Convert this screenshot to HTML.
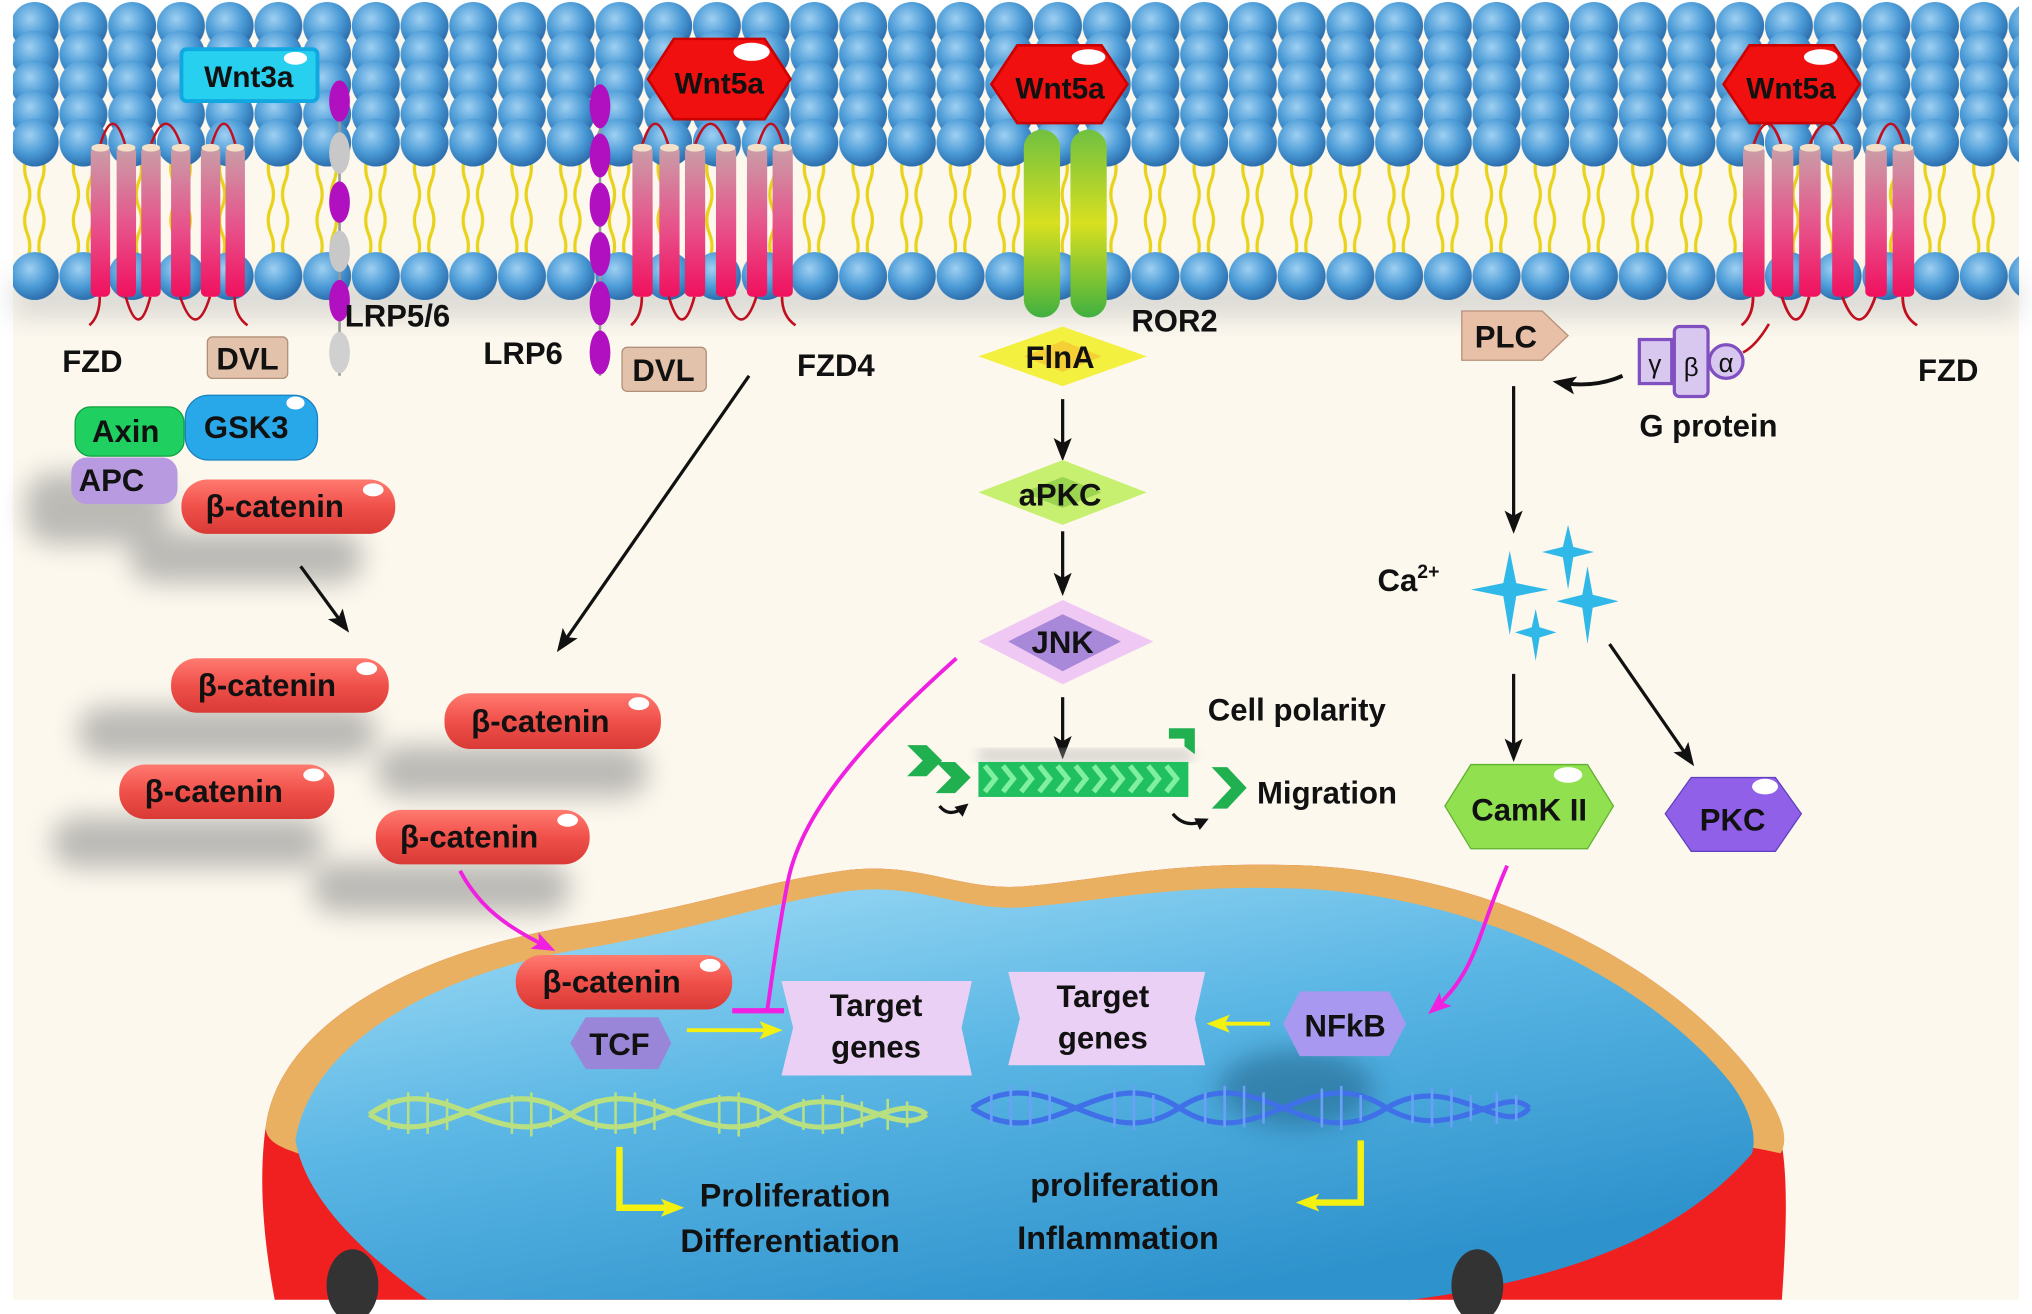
<!DOCTYPE html>
<html><head><meta charset="utf-8"><style>
html,body{margin:0;padding:0;background:#fff;}
svg{display:block;}
text{font-family:"Liberation Sans",Arial,sans-serif;font-weight:bold;fill:#111;}
</style></head><body>
<svg width="2032" height="1314" viewBox="0 0 1568 1014" preserveAspectRatio="none" xmlns="http://www.w3.org/2000/svg">
<defs>
<radialGradient id="head" cx="0.4" cy="0.35" r="0.65"><stop offset="0" stop-color="#9fd0f2"/><stop offset="0.6" stop-color="#4a9ad6"/><stop offset="1" stop-color="#2d6fae"/></radialGradient>
<pattern id="heads" width="37.6" height="40" patternUnits="userSpaceOnUse" x="8" y="0"><circle cx="18.8" cy="20" r="18.5" fill="url(#head)"/></pattern>
<pattern id="tails" width="37.6" height="80" patternUnits="userSpaceOnUse" x="8" y="120"><path d="M13,0 q-4,10 0,20 q4,10 0,20 q-4,10 0,20 q4,10 0,20 M24,0 q4,10 0,20 q-4,10 0,20 q4,10 0,20 q-4,10 0,20" stroke="#e8d21a" stroke-width="2.5" fill="none"/></pattern>
<linearGradient id="cyl" x1="0" y1="0" x2="0" y2="1"><stop offset="0" stop-color="#c9a0a8"/><stop offset="0.55" stop-color="#e8508a"/><stop offset="1" stop-color="#f0105e"/></linearGradient>
<linearGradient id="red" x1="0" y1="0" x2="0" y2="1"><stop offset="0" stop-color="#ff7a70"/><stop offset="0.5" stop-color="#f0504a"/><stop offset="1" stop-color="#d93a35"/></linearGradient>
<linearGradient id="ror" x1="0" y1="0" x2="0" y2="1"><stop offset="0" stop-color="#70c040"/><stop offset="0.5" stop-color="#d8e020"/><stop offset="1" stop-color="#40b040"/></linearGradient>
<linearGradient id="nuc" x1="0" y1="0" x2="0.6" y2="1"><stop offset="0" stop-color="#a8e0f8"/><stop offset="0.5" stop-color="#5ab6e4"/><stop offset="1" stop-color="#2e92cc"/></linearGradient>
<filter id="blur" x="-50%" y="-50%" width="200%" height="200%"><feGaussianBlur stdDeviation="10"/></filter>
<filter id="blur2"><feGaussianBlur stdDeviation="5"/></filter>
<marker id="ar" markerWidth="10" markerHeight="10" refX="7" refY="5" orient="auto" markerUnits="userSpaceOnUse" viewBox="0 0 10 10"><path d="M0,0 L10,5 L0,10 z" fill="#111"/></marker>
<marker id="arb" markerWidth="18" markerHeight="18" refX="14" refY="9" orient="auto" markerUnits="userSpaceOnUse" viewBox="0 0 18 18"><path d="M0,2 L18,9 L0,16 L4,9 z" fill="#111"/></marker>
<marker id="arm" markerWidth="18" markerHeight="18" refX="14" refY="9" orient="auto" markerUnits="userSpaceOnUse" viewBox="0 0 18 18"><path d="M0,2 L18,9 L0,16 L4,9 z" fill="#f020e0"/></marker>
<marker id="ary" markerWidth="18" markerHeight="18" refX="12" refY="9" orient="auto" markerUnits="userSpaceOnUse" viewBox="0 0 18 18"><path d="M0,2 L18,9 L0,16 L4,9 z" fill="#f4f010"/></marker>
<g id="fzd">
 <path d="M7,113 q10,-35 20,0 M46,113 q12,-35 24,0 M93,113 q10,-35 19,0" stroke="#c01020" stroke-width="2" fill="none"/>
 <rect x="0" y="113" width="15" height="116" rx="4" fill="url(#cyl)"/>
 <rect x="20" y="113" width="15" height="116" rx="4" fill="url(#cyl)"/>
 <rect x="39" y="113" width="15" height="116" rx="4" fill="url(#cyl)"/>
 <rect x="62" y="113" width="15" height="116" rx="4" fill="url(#cyl)"/>
 <rect x="85" y="113" width="15" height="116" rx="4" fill="url(#cyl)"/>
 <rect x="104" y="113" width="15" height="116" rx="4" fill="url(#cyl)"/>
 <g fill="#f4e0c8"><ellipse cx="7.5" cy="114" rx="7" ry="3"/><ellipse cx="27.5" cy="114" rx="7" ry="3"/><ellipse cx="46.5" cy="114" rx="7" ry="3"/><ellipse cx="69.5" cy="114" rx="7" ry="3"/><ellipse cx="92.5" cy="114" rx="7" ry="3"/><ellipse cx="111.5" cy="114" rx="7" ry="3"/></g>
 <path d="M7,229 q0,15 -8,22 M27,229 q10,35 19,0 M69,229 q12,35 23,0 M111,229 q0,15 10,22" stroke="#c01020" stroke-width="2" fill="none"/>
</g>
</defs>
<rect width="1568" height="1014" fill="#fff"/>
<rect x="10" y="10" width="1548" height="993" fill="#fcf8ee"/>
<!-- membrane shadow -->
<rect x="10" y="215" width="1548" height="30" fill="#bbb" opacity="0.5" filter="url(#blur)"/>
<!-- tails -->
<rect x="10" y="122" width="1548" height="76" fill="url(#tails)"/>
<!-- heads -->
<rect x="10" y="0" width="1548" height="40" fill="url(#heads)"/>
<g transform="translate(0,22)"><rect x="10" y="0" width="1548" height="40" fill="url(#heads)"/></g>
<g transform="translate(0,45)"><rect x="10" y="0" width="1548" height="40" fill="url(#heads)"/></g>
<g transform="translate(0,68)"><rect x="10" y="0" width="1548" height="40" fill="url(#heads)"/></g>
<g transform="translate(0,90)"><rect x="10" y="0" width="1548" height="40" fill="url(#heads)"/></g>
<g transform="translate(0,193)"><rect x="10" y="0" width="1548" height="40" fill="url(#heads)"/></g>

<!-- receptors -->
<use href="#fzd" x="70" y="0"/>
<use href="#fzd" transform="translate(488,0) scale(1.04,1)"/>
<use href="#fzd" transform="translate(1345,0) scale(1.11,1)"/>

<!-- LRP5/6 -->
<g>
 <line x1="262" y1="62" x2="262" y2="290" stroke="#999" stroke-width="2"/>
 <ellipse cx="262" cy="78" rx="8" ry="16" fill="#b010c0"/>
 <ellipse cx="262" cy="118" rx="8" ry="16" fill="#c8c8c8"/>
 <ellipse cx="262" cy="156" rx="8" ry="16" fill="#b010c0"/>
 <ellipse cx="262" cy="194" rx="8" ry="16" fill="#c8c8c8"/>
 <ellipse cx="262" cy="232" rx="8" ry="16" fill="#b010c0"/>
 <ellipse cx="262" cy="272" rx="8" ry="16" fill="#d0d0d0"/>
</g>
<g>
 <line x1="463" y1="65" x2="463" y2="290" stroke="#999" stroke-width="2"/>
 <ellipse cx="463" cy="82" rx="8" ry="17" fill="#b010c0"/>
 <ellipse cx="463" cy="120" rx="8" ry="17" fill="#b010c0"/>
 <ellipse cx="463" cy="158" rx="8" ry="17" fill="#b010c0"/>
 <ellipse cx="463" cy="196" rx="8" ry="17" fill="#b010c0"/>
 <ellipse cx="463" cy="234" rx="8" ry="17" fill="#b010c0"/>
 <ellipse cx="463" cy="272" rx="8" ry="17" fill="#b010c0"/>
</g>
<!-- ROR2 -->
<rect x="790" y="100" width="28" height="145" rx="14" fill="url(#ror)"/>
<rect x="826" y="100" width="28" height="145" rx="14" fill="url(#ror)"/>

<!-- Wnt ligands -->
<rect x="140" y="38" width="105" height="40" rx="4" fill="#28d0f0" stroke="#10a8e0" stroke-width="3"/>
<ellipse cx="228" cy="45" rx="9" ry="5" fill="#fff"/>
<text x="192" y="67" font-size="23" text-anchor="middle">Wnt3a</text>
<g>
<polygon points="500,61 520,30 590,30 610,61 590,92 520,92" fill="#f01010" stroke="#c00" stroke-width="2"/>
<ellipse cx="580" cy="40" rx="14" ry="7" fill="#fff"/>
<text x="555" y="72" font-size="23" text-anchor="middle">Wnt5a</text>
</g>
<g>
<polygon points="765,65 785,35 850,35 870,65 850,95 785,95" fill="#f01010" stroke="#c00" stroke-width="2"/>
<ellipse cx="840" cy="44" rx="13" ry="6" fill="#fff"/>
<text x="818" y="76" font-size="23" text-anchor="middle">Wnt5a</text>
</g>
<g>
<polygon points="1330,65 1350,35 1415,35 1435,65 1415,95 1350,95" fill="#f01010" stroke="#c00" stroke-width="2"/>
<ellipse cx="1405" cy="44" rx="13" ry="6" fill="#fff"/>
<text x="1382" y="76" font-size="23" text-anchor="middle">Wnt5a</text>
</g>

<!-- labels near membrane -->
<text x="48" y="287" font-size="24">FZD</text>
<rect x="160" y="260" width="62" height="32" rx="4" fill="#e2c2aa" stroke="#b09078"/>
<text x="191" y="285" font-size="24" text-anchor="middle">DVL</text>
<text x="266" y="252" font-size="24">LRP5/6</text>
<text x="373" y="281" font-size="24">LRP6</text>
<rect x="480" y="268" width="65" height="34" rx="4" fill="#e2c2aa" stroke="#b09078"/>
<text x="512" y="294" font-size="24" text-anchor="middle">DVL</text>
<text x="615" y="290" font-size="24">FZD4</text>
<text x="873" y="256" font-size="24">ROR2</text>
<text x="1480" y="294" font-size="24">FZD</text>

<!-- destruction complex -->
<g opacity="0.55" filter="url(#blur)" fill="#888">
 <rect x="20" y="365" width="110" height="55" rx="20"/>
 <rect x="100" y="410" width="180" height="40" rx="20"/>
 <rect x="60" y="545" width="230" height="40" rx="20"/>
 <rect x="40" y="630" width="210" height="40" rx="20"/>
 <rect x="290" y="575" width="210" height="40" rx="20"/>
 <rect x="240" y="665" width="200" height="40" rx="20"/>
</g>
<rect x="58" y="314" width="84" height="38" rx="12" fill="#1fcf60" stroke="#10a040"/>
<text x="97" y="341" font-size="24" text-anchor="middle">Axin</text>
<rect x="55" y="353" width="82" height="36" rx="12" fill="#b89ae0"/>
<text x="86" y="379" font-size="24" text-anchor="middle">APC</text>
<rect x="143" y="305" width="102" height="50" rx="18" fill="#28a8e8" stroke="#1880c0"/>
<ellipse cx="228" cy="311" rx="7" ry="5" fill="#fff"/>
<text x="190" y="338" font-size="24" text-anchor="middle">GSK3</text>

<!-- beta-catenin pills -->
<g font-size="24">
<rect x="140" y="370" width="165" height="42" rx="20" fill="url(#red)"/><ellipse cx="288" cy="378" rx="8" ry="5" fill="#fff"/><text x="212" y="399" text-anchor="middle">β-catenin</text>
<rect x="132" y="508" width="168" height="42" rx="20" fill="url(#red)"/><ellipse cx="283" cy="516" rx="8" ry="5" fill="#fff"/><text x="206" y="537" text-anchor="middle">β-catenin</text>
<rect x="343" y="535" width="167" height="43" rx="20" fill="url(#red)"/><ellipse cx="493" cy="543" rx="8" ry="5" fill="#fff"/><text x="417" y="565" text-anchor="middle">β-catenin</text>
<rect x="92" y="590" width="166" height="42" rx="20" fill="url(#red)"/><ellipse cx="242" cy="598" rx="8" ry="5" fill="#fff"/><text x="165" y="619" text-anchor="middle">β-catenin</text>
<rect x="290" y="625" width="165" height="42" rx="20" fill="url(#red)"/><ellipse cx="438" cy="633" rx="8" ry="5" fill="#fff"/><text x="362" y="654" text-anchor="middle">β-catenin</text>
</g>

<!-- arrows left -->
<line x1="232" y1="437" x2="267" y2="485" stroke="#111" stroke-width="2.5" marker-end="url(#arb)"/>
<line x1="578" y1="290" x2="432" y2="500" stroke="#111" stroke-width="2.5" marker-end="url(#arb)"/>

<!-- central pathway -->
<polygon points="755,275 820,252 885,275 820,298" fill="#f4f040"/>
<polygon points="790,275 820,263 850,275 820,287" fill="#f4c030" opacity="0.7"/>
<text x="818" y="284" font-size="24" text-anchor="middle">FlnA</text>
<line x1="820" y1="308" x2="820" y2="352" stroke="#111" stroke-width="2.5" marker-end="url(#arb)"/>
<polygon points="755,380 820,355 885,380 820,405" fill="#c8f070"/>
<polygon points="790,380 820,368 850,380 820,392" fill="#88c840" opacity="0.7"/>
<text x="818" y="390" font-size="24" text-anchor="middle">aPKC</text>
<line x1="820" y1="410" x2="820" y2="456" stroke="#111" stroke-width="2.5" marker-end="url(#arb)"/>
<polygon points="755,495 820,463 890,495 820,528" fill="#f0c8f4"/>
<polygon points="778,495 820,474 865,495 820,518" fill="#a888d8"/>
<text x="820" y="504" font-size="24" text-anchor="middle">JNK</text>
<line x1="820" y1="538" x2="820" y2="582" stroke="#111" stroke-width="2.5" marker-end="url(#arb)"/>

<!-- chevrons -->
<rect x="755" y="578" width="165" height="10" fill="#aaa" opacity="0.5" filter="url(#blur2)"/>
<rect x="755" y="588" width="162" height="27" fill="#20c060"/>
<g fill="none" stroke="#80f0a0" stroke-width="4">
<path d="M760,591 l8,10 l-8,10 M774,591 l8,10 l-8,10 M788,591 l8,10 l-8,10 M802,591 l8,10 l-8,10 M816,591 l8,10 l-8,10 M830,591 l8,10 l-8,10 M844,591 l8,10 l-8,10 M858,591 l8,10 l-8,10 M872,591 l8,10 l-8,10 M886,591 l8,10 l-8,10 M900,591 l8,10 l-8,10"/>
</g>
<path d="M700,575 l15,0 l12,12 l-12,12 l-15,0 l12,-12z" fill="#20b050"/>
<path d="M722,588 l15,0 l12,12 l-12,12 l-15,0 l12,-12z" fill="#20b050"/>
<path d="M935,592 l12,0 l15,16 l-15,16 l-12,0 l15,-16z" fill="#20b050"/>
<path d="M902,562 l20,0 l0,20 l-8,-6 l0,-6 l-12,0z" fill="#20b050"/>
<path d="M725,622 q8,10 20,0" stroke="#111" stroke-width="2.5" fill="none" marker-end="url(#ar)"/>
<path d="M905,628 q10,12 25,5" stroke="#111" stroke-width="2.5" fill="none" marker-end="url(#ar)"/>
<text x="932" y="556" font-size="24">Cell polarity</text>
<text x="970" y="620" font-size="24">Migration</text>

<!-- right pathway -->
<polygon points="1128,240 1190,240 1210,259 1190,278 1128,278" fill="#e8c0a8" stroke="#b89078"/>
<text x="1162" y="268" font-size="24" text-anchor="middle">PLC</text>
<rect x="1265" y="262" width="25" height="34" fill="#d8c8f0" stroke="#8050c0" stroke-width="2.5"/>
<rect x="1292" y="252" width="26" height="54" rx="4" fill="#d8c8f0" stroke="#8050c0" stroke-width="2.5"/>
<circle cx="1332" cy="279" r="13" fill="#d8c8f0" stroke="#8050c0" stroke-width="2.5"/>
<text x="1277" y="288" font-size="20" text-anchor="middle" font-weight="normal" style="font-weight:normal">γ</text>
<text x="1305" y="290" font-size="20" text-anchor="middle" style="font-weight:normal">β</text>
<text x="1332" y="287" font-size="20" text-anchor="middle" style="font-weight:normal">α</text>
<path d="M1345,272 q10,-5 20,-22" stroke="#c01020" stroke-width="2" fill="none"/>
<text x="1265" y="337" font-size="24">G protein</text>
<path d="M1252,290 q-22,10 -50,5" stroke="#111" stroke-width="3" fill="none" marker-end="url(#arb)"/>
<line x1="1168" y1="298" x2="1168" y2="408" stroke="#111" stroke-width="2.5" marker-end="url(#arb)"/>
<text x="1063" y="456" font-size="24">Ca<tspan font-size="15" dy="-10">2+</tspan></text>
<g fill="#30b8e8">
<path d="M1165,425 l5,25 l25,5 l-25,5 l-5,30 l-5,-30 l-25,-5 l25,-5z"/>
<path d="M1210,405 l4,17 l16,4 l-16,4 l-4,25 l-4,-25 l-16,-4 l16,-4z"/>
<path d="M1225,437 l4,22 l20,5 l-20,5 l-4,28 l-4,-28 l-20,-5 l20,-5z"/>
<path d="M1185,470 l3,14 l13,4 l-13,4 l-3,18 l-3,-18 l-13,-4 l13,-4z"/>
</g>
<line x1="1168" y1="520" x2="1168" y2="584" stroke="#111" stroke-width="2.5" marker-end="url(#arb)"/>
<line x1="1242" y1="497" x2="1305" y2="588" stroke="#111" stroke-width="2.5" marker-end="url(#arb)"/>
<polygon points="1115,622 1135,590 1225,590 1245,622 1225,655 1135,655" fill="#90e050" stroke="#60b030"/>
<ellipse cx="1210" cy="598" rx="11" ry="6" fill="#fff"/>
<text x="1180" y="633" font-size="24" text-anchor="middle">CamK II</text>
<polygon points="1285,628 1305,600 1370,600 1390,628 1370,657 1305,657" fill="#9060e8" stroke="#6040c0"/>
<ellipse cx="1362" cy="607" rx="10" ry="6" fill="#fff"/>
<text x="1337" y="641" font-size="24" text-anchor="middle">PKC</text>

<!-- nucleus -->
<path d="M205,870 C215,790 320,735 440,715 C540,700 580,682 650,672 C710,664 740,688 790,684 C860,678 900,664 1010,668 C1160,676 1290,748 1352,828 C1378,862 1382,900 1375,1003 L212,1003 C202,950 200,905 205,870 Z" fill="#f02020"/>
<path d="M205,870 C215,790 320,735 440,715 C540,700 580,682 650,672 C710,664 740,688 790,684 C860,678 900,664 1010,668 C1160,676 1290,748 1352,828 C1378,862 1380,880 1374,890 C1330,880 1280,876 1260,880 L 230,890 C215,885 205,880 205,870 Z" fill="#e8b060"/>
<path d="M228,880 C240,805 335,752 445,733 C545,716 585,698 652,688 C710,680 742,704 792,700 C862,694 905,682 1010,686 C1150,694 1275,760 1335,835 C1350,855 1356,875 1352,890 C1300,950 1220,985 1090,1003 L330,1003 C270,960 235,920 228,880 Z" fill="url(#nuc)"/>
<ellipse cx="272" cy="992" rx="20" ry="28" fill="#333"/>
<ellipse cx="1140" cy="992" rx="20" ry="28" fill="#333"/>
<ellipse cx="1000" cy="840" rx="60" ry="30" fill="#1a5a80" opacity="0.5" filter="url(#blur)"/>

<!-- nucleus content -->
<rect x="398" y="737" width="167" height="42" rx="20" fill="url(#red)"/><ellipse cx="548" cy="745" rx="8" ry="5" fill="#fff"/><text x="472" y="766" font-size="24" text-anchor="middle">β-catenin</text>
<polygon points="440,805 452,785 508,785 518,805 508,825 452,825" fill="#9a86d8"/>
<text x="478" y="814" font-size="24" text-anchor="middle">TCF</text>
<path d="M603,757 L750,757 L742,793 L750,830 L603,830 L612,793 Z" fill="#ead0f4"/>
<text x="676" y="784" font-size="24" text-anchor="middle">Target</text>
<text x="676" y="816" font-size="24" text-anchor="middle">genes</text>
<path d="M778,750 L930,750 L922,786 L930,822 L778,822 L787,786 Z" fill="#ead0f4"/>
<text x="851" y="777" font-size="24" text-anchor="middle">Target</text>
<text x="851" y="809" font-size="24" text-anchor="middle">genes</text>
<polygon points="990,790 1003,765 1072,765 1085,790 1072,815 1003,815" fill="#a898f0"/>
<text x="1038" y="800" font-size="24" text-anchor="middle">NFkB</text>
<line x1="530" y1="795" x2="598" y2="795" stroke="#f4f010" stroke-width="3" marker-end="url(#ary)"/>
<line x1="980" y1="790" x2="937" y2="790" stroke="#f4f010" stroke-width="3" marker-end="url(#ary)"/>
<!-- magenta -->
<path d="M355,672 C370,700 390,715 425,732" stroke="#f020e0" stroke-width="3" fill="none" marker-end="url(#arm)"/>
<path d="M738,508 C680,560 620,620 608,680 C600,720 595,760 592,780" stroke="#f020e0" stroke-width="3" fill="none"/>
<line x1="565" y1="780" x2="605" y2="780" stroke="#f020e0" stroke-width="4"/>
<path d="M1163,668 C1140,720 1140,750 1105,780" stroke="#f020e0" stroke-width="3" fill="none" marker-end="url(#arm)"/>
<!-- DNA -->
<g fill="none" stroke="#b8e080" stroke-width="4">
<path d="M285,860 C340,820 380,895 440,860 C500,820 540,895 600,860 C650,830 690,880 715,860"/>
<path d="M285,860 C340,895 380,820 440,860 C500,895 540,820 600,860 C650,890 690,840 715,860"/>
</g>
<g stroke="#b8e080" stroke-width="2"><path d="M300,848 v24 M315,843 v32 M330,843 v32 M345,848 v24 M395,845 v30 M410,843 v34 M425,850 v20 M460,848 v24 M475,843 v32 M490,843 v32 M505,848 v24 M555,845 v30 M570,843 v34 M585,850 v20 M620,848 v24 M635,845 v30 M650,845 v30 M665,850 v20 M685,848 v24 M700,850 v20"/></g>
<g fill="none" stroke="#4070e8" stroke-width="4">
<path d="M750,855 C810,815 850,895 910,855 C970,815 1010,895 1070,855 C1120,825 1160,880 1180,855"/>
<path d="M750,855 C810,895 850,815 910,855 C970,895 1010,815 1070,855 C1120,885 1160,835 1180,855"/>
</g>
<g stroke="#6aa0f8" stroke-width="2"><path d="M765,843 v24 M780,838 v32 M795,838 v32 M810,843 v24 M860,840 v30 M875,838 v34 M890,845 v20 M930,843 v24 M945,838 v32 M960,838 v32 M975,843 v24 M1020,840 v30 M1035,838 v34 M1050,845 v20 M1090,843 v24 M1105,840 v30 M1120,840 v30 M1135,845 v20 M1155,843 v24 M1170,845 v20"/></g>
<!-- yellow L arrows -->
<path d="M478,885 L478,932 L522,932" stroke="#f4f010" stroke-width="5" fill="none" marker-end="url(#ary)"/>
<path d="M1050,880 L1050,928 L1006,928" stroke="#f4f010" stroke-width="5" fill="none" marker-end="url(#ary)"/>
<text x="540" y="931" font-size="25">Proliferation</text>
<text x="525" y="966" font-size="25">Differentiation</text>
<text x="795" y="923" font-size="25">proliferation</text>
<text x="785" y="964" font-size="25">Inflammation</text>
</svg>
</body></html>
